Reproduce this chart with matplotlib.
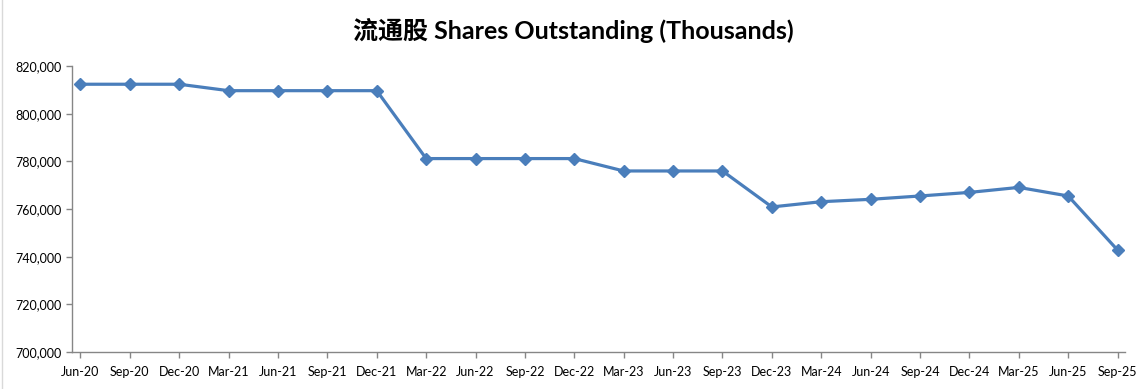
import matplotlib
matplotlib.use("Agg")
import matplotlib.pyplot as plt
from matplotlib.ticker import FuncFormatter
from matplotlib.lines import Line2D

quarters = ["Jun-20", "Sep-20", "Dec-20", "Mar-21", "Jun-21", "Sep-21", "Dec-21",
            "Mar-22", "Jun-22", "Sep-22", "Dec-22", "Mar-23", "Jun-23", "Sep-23",
            "Dec-23", "Mar-24", "Jun-24", "Sep-24", "Dec-24", "Mar-25", "Jun-25", "Sep-25"]
shares = [812400, 812400, 812400, 809700, 809700, 809700, 809700,
          781200, 781200, 781200, 781200, 776000, 776000, 776000,
          760900, 763100, 764100, 765500, 767000, 769100, 765500, 742800]

line_color = "#4a7ebb"
axis_color = "#868686"

plt.rcParams['font.family'] = ['Lato', 'Noto Sans CJK SC', 'DejaVu Sans']

fig = plt.figure(figsize=(11.47, 3.89), dpi=100)
ax = fig.add_axes([0.0628, 0.095, 0.918, 0.735])

x = list(range(len(quarters)))
ax.plot(x, shares, color=line_color, linewidth=2.3, marker='D', markersize=6,
        markerfacecolor=line_color, markeredgecolor=line_color)

ax.set_ylim(700000, 820000)
ax.set_yticks(range(700000, 820001, 20000))
ax.yaxis.set_major_formatter(FuncFormatter(lambda v, p: "{:,.0f}".format(v)))
ax.set_xlim(-0.17, len(quarters) - 1 + 0.15)
ax.set_xticks(x)
ax.set_xticklabels(quarters)

for s in ['top', 'right']:
    ax.spines[s].set_visible(False)
for s in ['left', 'bottom']:
    ax.spines[s].set_color(axis_color)
    ax.spines[s].set_linewidth(1.0)
ax.tick_params(axis='both', colors=axis_color, length=4, width=1.0, labelsize=9,
               labelcolor='black')
ax.tick_params(axis='x', pad=6)

fig.text(0.5, 0.922, "流通股 Shares Outstanding (Thousands)", ha='center', va='center',
         fontsize=18, fontweight='bold', color='black')

# left border of chart area
fig.add_artist(Line2D([0.002, 0.002], [0, 1], transform=fig.transFigure,
                      color="#d9d9d9", linewidth=1))

fig.savefig("out.png", dpi=100)
